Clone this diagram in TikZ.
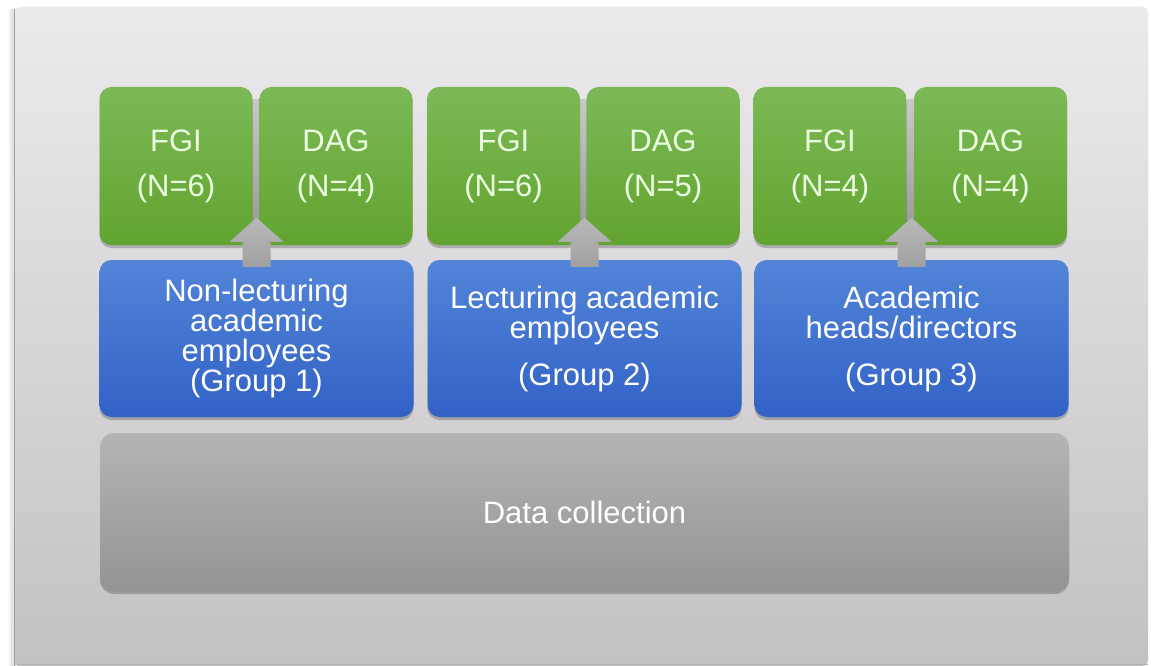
\documentclass[tikz,border=0pt]{standalone}
\usepackage{fontspec}
\setmainfont{Liberation Sans}
\usetikzlibrary{shadows,calc}
\definecolor{panelTop}{RGB}{236,234,236}
\definecolor{panelBot}{RGB}{195,193,195}
\definecolor{greenTop}{RGB}{124,185,86}
\definecolor{greenBot}{RGB}{98,164,48}
\definecolor{blueTop}{RGB}{82,132,216}
\definecolor{blueBot}{RGB}{50,98,198}
\definecolor{grayTop}{RGB}{180,180,180}
\definecolor{grayBot}{RGB}{148,148,148}
\definecolor{arrowTop}{RGB}{185,185,185}
\definecolor{arrowBot}{RGB}{160,160,160}
\definecolor{greenText}{RGB}{236,255,226}
\definecolor{gapGray}{RGB}{150,150,150}
\tikzset{
  boxbase/.style={rounded corners=12pt, inner sep=0pt, align=center,
    drop shadow={shadow xshift=0pt, shadow yshift=-3pt, opacity=0.22, fill=black},
    font=\fontsize{31}{30}\selectfont},
  greenbox/.style={boxbase, top color=greenTop, bottom color=greenBot,
    text=greenText, minimum width=153pt, minimum height=158pt},
  bluebox/.style={boxbase, top color=blueTop, bottom color=blueBot,
    text=white, minimum width=314pt, minimum height=157pt},
  graybox/.style={boxbase, rounded corners=14pt, top color=grayTop, bottom color=grayBot,
    text=white, minimum width=969pt, minimum height=158pt},
  uparrow/.style={top color=arrowTop, bottom color=arrowBot, draw=none},
  gapshade/.style={top color=gapGray!40!panelTop, bottom color=gapGray, draw=none}
}
\begin{document}
\begin{tikzpicture}[x=1pt,y=-1pt]
\useasboundingbox (0,0) rectangle (1151,666);
\fill[white] (0,0) rectangle (1151,666);
% soft outer shadow on left
\fill[black, opacity=0.05] (9,9) rectangle (14,666);
\fill[black, opacity=0.06] (11,8) rectangle (14,666);
\shade[top color=panelTop, bottom color=panelBot, rounded corners=6pt]
  (14,7) -- (1148,7) -- (1148,666) -- (14,666) -- cycle;
\draw[gray!75, line width=1.2pt] (14.5,9) -- (14.5,666);
\draw[gray!60, line width=1pt] (14,664.5) -- (1148,664.5);

% data collection
\node[graybox] (data) at (584.5,512) {Data collection};

% shaded gaps between each FGI/DAG pair
\shade[gapshade] (251,100) rectangle (261,240);
\shade[gapshade] (578,100) rectangle (588,240);
\shade[gapshade] (905,100) rectangle (915,240);

% green boxes
\node[greenbox] (f1) at (176,166) {FGI\\[15pt](N=6)};
\node[greenbox] (d1) at (336,166) {DAG\\[15pt](N=4)};
\node[greenbox] (f2) at (503.5,166) {FGI\\[15pt](N=6)};
\node[greenbox] (d2) at (663,166) {DAG\\[15pt](N=5)};
\node[greenbox] (f3) at (830,166) {FGI\\[15pt](N=4)};
\node[greenbox] (d3) at (990.5,166) {DAG\\[15pt](N=4)};

% blue boxes
\node[bluebox] (b1) at (256.5,338.5) {Non-lecturing\\academic\\employees\\(Group 1)};
\node[bluebox] (b2) at (584.5,338.5) {Lecturing academic\\employees\\[17pt](Group 2)};
\node[bluebox] (b3) at (911.5,338.5) {Academic\\heads/directors\\[17pt](Group 3)};

% block arrows from each group up to its FGI/DAG pair
\foreach \g in {1,2,3}{
  \coordinate (t\g) at ($(b\g.north)+(0,-42)$);
  \shade[uparrow] (t\g) -- ++(27,24) -- ++(-13,0) -- ++(0,25) -- ++(-28,0)
    -- ++(0,-25) -- ++(-13,0) -- cycle;
}
\end{tikzpicture}
\end{document}
